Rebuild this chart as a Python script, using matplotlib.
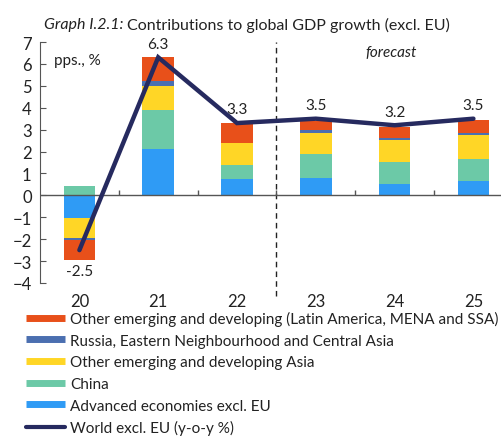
import matplotlib
matplotlib.use("Agg")
import matplotlib.pyplot as plt
from matplotlib.lines import Line2D
import numpy as np

plt.rcParams['font.family'] = ['Lato', 'DejaVu Sans']

years = ['20', '21', '22', '23', '24', '25']
advanced = [-1.03, 2.13, 0.73, 0.78, 0.50, 0.64]
china = [0.43, 1.78, 0.64, 1.09, 1.04, 1.04]
other_asia = [-0.90, 1.07, 1.04, 0.98, 0.97, 1.06]
russia = [-0.10, 0.25, 0.00, 0.12, 0.11, 0.12]
other_em = [-0.94, 1.10, 0.89, 0.41, 0.50, 0.60]
world = [-2.5, 6.3, 3.3, 3.5, 3.2, 3.5]

series = [
    ('Advanced economies excl. EU', advanced, '#2F9BF5'),
    ('China', china, '#6CC9A7'),
    ('Other emerging and developing Asia', other_asia, '#FFD626'),
    ('Russia, Eastern Neighbourhood and Central Asia', russia, '#4B6FB0'),
    ('Other emerging and developing (Latin America, MENA and SSA)', other_em, '#E8501A'),
]
line_color = '#262A5F'
text_color = '#222222'

fig = plt.figure(figsize=(5.01, 4.39), dpi=100)
ax = fig.add_axes([40/501, 1-284/439, 1-40/501, 241/439])

x = np.arange(len(years))
pos = np.zeros(len(years))
neg = np.zeros(len(years))
for name, vals, col in series:
    v = np.array(vals)
    bottoms = np.where(v >= 0, pos, neg)
    ax.bar(x, v, width=0.4, bottom=bottoms, color=col, edgecolor='none', zorder=2)
    pos = pos + np.where(v >= 0, v, 0)
    neg = neg + np.where(v < 0, v, 0)

ax.plot(x, world, color=line_color, lw=3.2, solid_capstyle='round',
        solid_joinstyle='miter', zorder=4)

# value labels
for i, w in enumerate(world):
    if w < 0:
        ax.text(x[i], neg[i] - 0.15, f'{w:.1f}', ha='center', va='top',
                fontsize=11, color=text_color)
    else:
        ax.text(x[i], w + 0.3, f'{w:.1f}', ha='center', va='bottom',
                fontsize=11, color=text_color)

ax.set_xlim(-0.5, 5.35)
ax.set_ylim(-4, 7)
ax.axhline(0, color='#555555', lw=1.0, zorder=3)
# category boundary ticks on the zero line
bounds = np.arange(len(years) - 1) + 0.5
ax.vlines(bounds, 0, 0.25, color='#555555', lw=1.0, zorder=3)
ax.axvline(2.5, ymin=-0.055, ymax=1.0, color='#222222', lw=1.0,
           linestyle=(0, (4, 3)), clip_on=False, zorder=1)

for s in ['top', 'right', 'bottom']:
    ax.spines[s].set_visible(False)
ax.spines['left'].set_color('#555555')
ax.set_yticks(range(-4, 8))
ax.tick_params(axis='y', direction='in', length=4, color='#555555',
               labelsize=12, labelcolor=text_color, pad=6)
ax.set_xticks(x)
ax.set_xticklabels(years)
ax.tick_params(axis='x', length=0, labelsize=12, labelcolor=text_color, pad=7)

ax.text(0.03, 0.955, 'pps., %', transform=ax.transAxes, fontsize=11,
        color=text_color, va='top', ha='left')
ax.text(3.96, 6.55, 'forecast', fontsize=11, style='italic',
        color=text_color, va='center', ha='center')

# title
fig.text(123/501, 1-25/439, 'Graph I.2.1:', style='italic', fontsize=11.5,
         ha='right', va='center', color=text_color)
fig.text(127/501, 1-25/439, 'Contributions to global GDP growth (excl. EU)',
         fontsize=11.5, ha='left', va='center', color=text_color)

handles = []
labels = []
for name, vals, col in reversed(series):
    handles.append(Line2D([0], [0], color=col, lw=5, solid_capstyle='butt'))
    labels.append(name)
handles.append(Line2D([0], [0], color=line_color, lw=3, solid_capstyle='round'))
labels.append('World excl. EU (y-o-y %)')

leg = fig.legend(handles, labels, loc='upper left',
                 bbox_to_anchor=(26/501, 1-312/439), frameon=False,
                 fontsize=11, handlelength=2.55, handletextpad=0.33,
                 labelspacing=0.5, borderaxespad=0, borderpad=0)
for t in leg.get_texts():
    t.set_color(text_color)

fig.savefig('out.png', dpi=100)
